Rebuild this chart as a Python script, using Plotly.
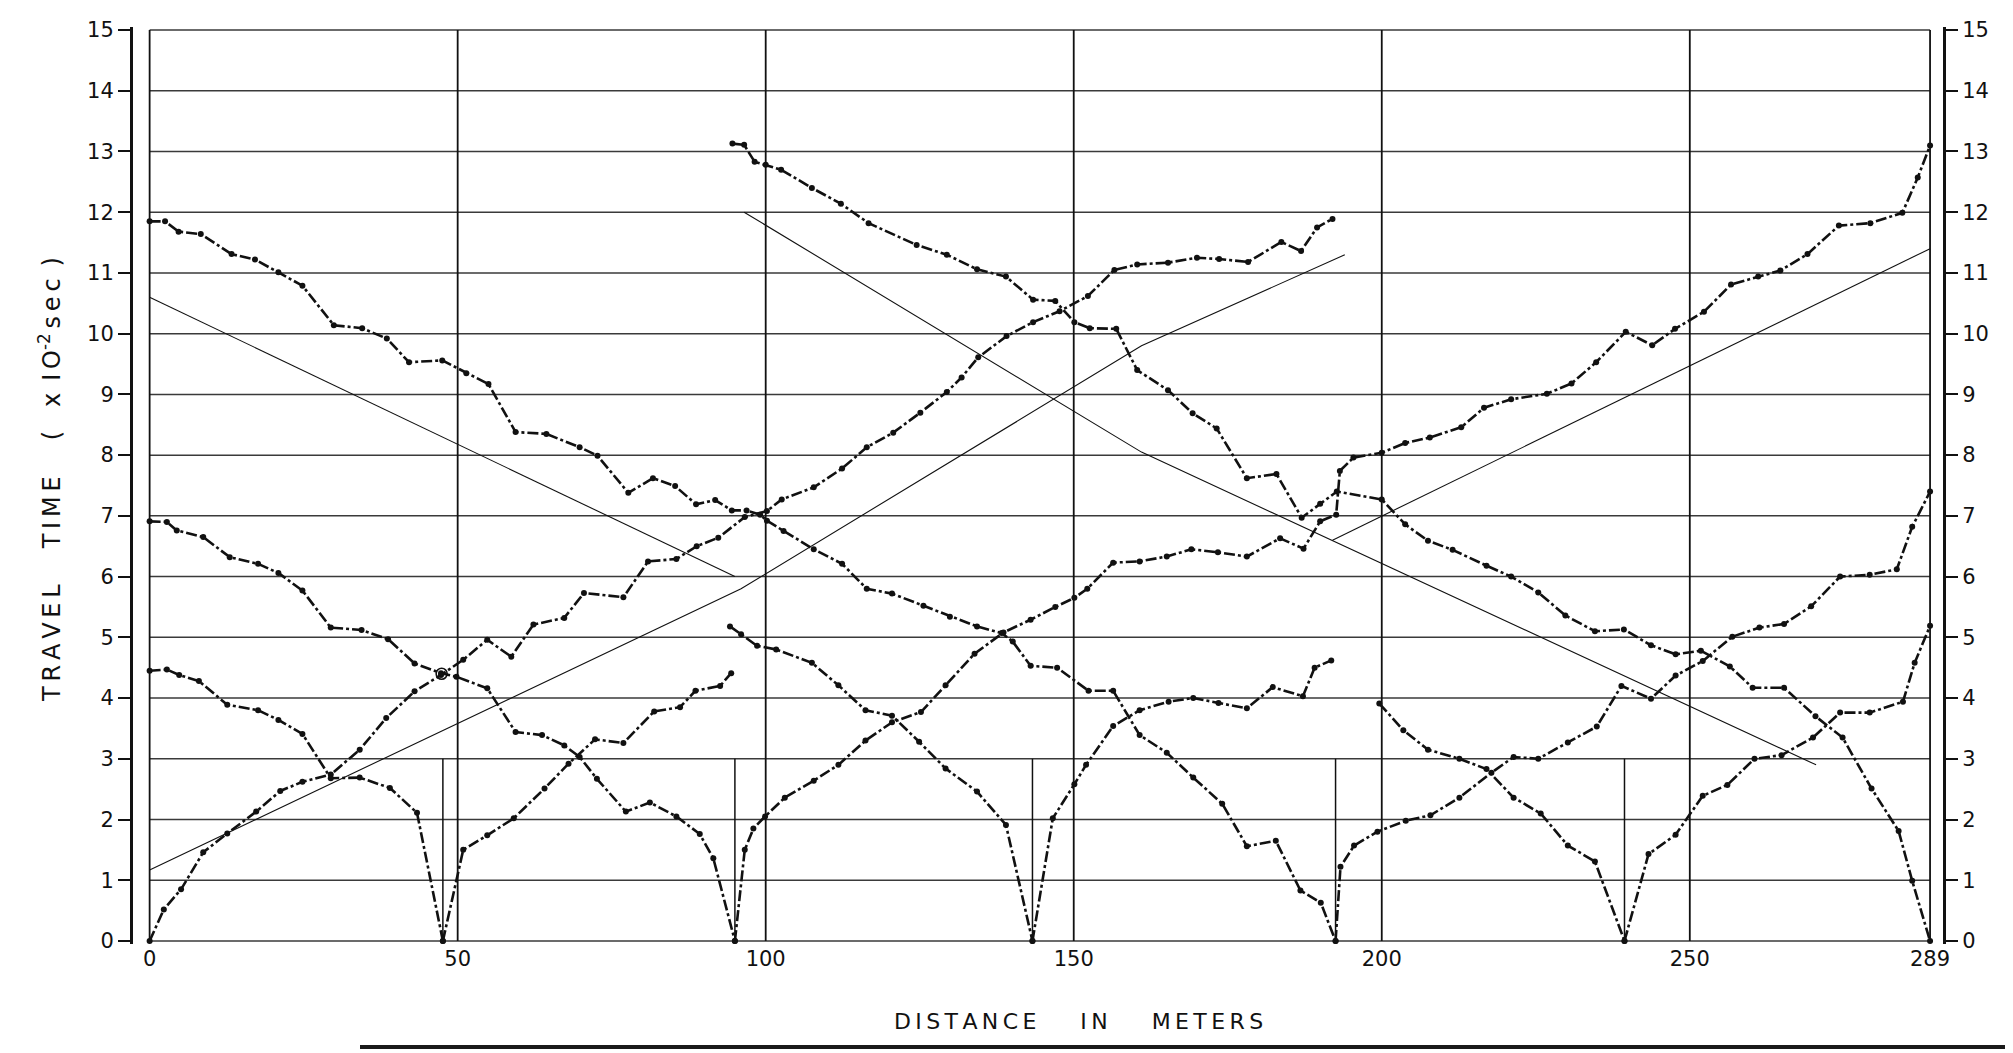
import plotly.graph_objects as go

# ---------------- data ----------------
DIST_TICKS = [0, 50, 100, 150, 200, 250, 289]
TIME_TICKS = list(range(0, 16))
SOURCE_X = [47.6, 95.0, 143.3, 192.5, 239.4]
SOURCE_MARK_TOP = 3

# shot at 0, forward (0 -> 192)
S0_FWD_X = [0, 2.3, 5.1, 8.7, 12.6, 17.3, 21.2, 24.8, 29.4, 34.1, 38.4, 43.0, 47.3, 50.9, 54.8, 58.7,
            62.3, 67.3, 70.5, 76.9, 80.9, 85.5, 88.8, 92.3, 96.6, 100.2, 102.6, 107.8, 112.4, 116.4,
            120.7, 125.1, 129.4, 131.8, 134.5, 139.1, 143.4, 147.7, 152.3, 156.6, 160.3, 165.3, 170.0,
            173.6, 178.3, 183.7, 186.9, 189.5, 192.0]
S0_FWD_T = [0, 0.52, 0.85, 1.46, 1.77, 2.13, 2.47, 2.62, 2.74, 3.15, 3.67, 4.11, 4.38, 4.63, 4.96, 4.68,
            5.21, 5.32, 5.73, 5.66, 6.25, 6.29, 6.50, 6.64, 6.98, 7.08, 7.27, 7.47, 7.78, 8.13,
            8.37, 8.70, 9.04, 9.28, 9.61, 9.96, 10.19, 10.37, 10.62, 11.05, 11.14, 11.17, 11.25,
            11.23, 11.18, 11.51, 11.36, 11.75, 11.89]

# shot at 192, reverse (0 -> 192)
S192_REV_X = [0, 2.5, 4.7, 8.3, 13.3, 17.1, 20.9, 24.8, 29.9, 34.5, 38.5, 42.1, 47.5, 51.4, 55.0, 59.4,
              64.4, 69.8, 72.7, 77.7, 81.7, 85.3, 88.7, 91.8, 94.5, 96.9, 99.1, 100.2, 102.9, 107.8,
              112.4, 116.4, 120.5, 125.6, 129.9, 134.3, 138.3, 140.1, 143.0, 147.3, 152.4, 156.4,
              160.7, 165.1, 169.4, 174.1, 178.1, 182.8, 186.8, 190.1, 192.5]
S192_REV_T = [11.85, 11.85, 11.68, 11.64, 11.31, 11.22, 11.01, 10.79, 10.14, 10.09, 9.92, 9.53, 9.56,
              9.35, 9.17, 8.38, 8.35, 8.13, 7.99, 7.38, 7.62, 7.49, 7.19, 7.26, 7.09, 7.09, 7.02, 6.92,
              6.75, 6.45, 6.21, 5.80, 5.72, 5.52, 5.34, 5.18, 5.07, 4.93, 4.53, 4.50, 4.12, 4.12,
              3.39, 3.10, 2.69, 2.26, 1.56, 1.65, 0.83, 0.63, 0]

# shot at 96, reverse (0 -> 95)
S96_REV_X = [0, 2.8, 4.4, 8.7, 13.0, 17.6, 20.9, 24.8, 29.4, 34.4, 38.7, 43.0, 47.3, 49.8, 54.8, 59.4,
             63.7, 67.3, 69.8, 72.6, 77.3, 81.2, 85.5, 89.3, 91.5, 95.0]
S96_REV_T = [6.91, 6.90, 6.76, 6.65, 6.32, 6.21, 6.06, 5.77, 5.16, 5.12, 4.97, 4.57, 4.41, 4.35, 4.16,
             3.44, 3.39, 3.22, 3.03, 2.67, 2.13, 2.28, 2.05, 1.76, 1.36, 0]

# shot at 48, reverse (0 -> 47.6)
S48_REV_X = [0, 2.8, 4.8, 8.0, 12.6, 17.6, 20.9, 24.8, 29.4, 34.1, 39.0, 43.4, 47.6]
S48_REV_T = [4.45, 4.47, 4.38, 4.28, 3.89, 3.80, 3.64, 3.41, 2.68, 2.69, 2.52, 2.11, 0]

# shot at 48, forward (47.6 -> 94.4)
S48_FWD_X = [47.6, 50.9, 54.8, 59.1, 64.1, 68.0, 72.3, 76.9, 81.9, 86.1, 88.6, 92.6, 94.4]
S48_FWD_T = [0, 1.50, 1.74, 2.02, 2.51, 2.92, 3.32, 3.26, 3.78, 3.85, 4.12, 4.20, 4.41]

# shot at 144, reverse (94.2 -> 143.3)
S144_REV_X = [94.2, 96.0, 98.6, 101.7, 107.5, 111.8, 116.2, 120.5, 124.9, 129.2, 134.3, 139.0, 143.3]
S144_REV_T = [5.18, 5.05, 4.86, 4.80, 4.58, 4.21, 3.80, 3.71, 3.28, 2.84, 2.46, 1.91, 0]

# shot at 144, forward (143.3 -> 191.8)
S144_FWD_X = [143.3, 146.6, 150.1, 152.0, 156.4, 160.7, 165.4, 169.4, 173.5, 178.1, 182.3, 187.2,
              189.1, 191.8]
S144_FWD_T = [0, 2.02, 2.58, 2.90, 3.54, 3.80, 3.94, 4.00, 3.92, 3.83, 4.18, 4.03, 4.50, 4.62]

# shot at 96, forward (95 -> 289)
S96_FWD_X = [95.0, 96.6, 98.0, 99.9, 103.1, 107.8, 111.8, 116.2, 120.5, 125.2, 129.2, 133.9, 138.6,
             143.0, 147.0, 150.1, 152.2, 156.4, 160.7, 165.1, 169.1, 173.4, 178.1, 183.5, 187.3,
             190.0, 192.6, 193.2, 195.4, 200.0, 203.8, 207.8, 212.9, 216.6, 221.0, 226.8, 230.8,
             234.8, 239.6, 243.9, 247.6, 252.3, 256.7, 261.1, 264.7, 269.1, 274.2, 279.3, 284.5,
             287.0, 289.0]
S96_FWD_T = [0, 1.50, 1.85, 2.05, 2.36, 2.64, 2.90, 3.30, 3.60, 3.77, 4.21, 4.73, 5.08,
             5.29, 5.50, 5.65, 5.80, 6.23, 6.25, 6.33, 6.45, 6.40, 6.33, 6.63, 6.46,
             6.91, 7.02, 7.74, 7.96, 8.04, 8.20, 8.29, 8.46, 8.78, 8.92, 9.01, 9.18,
             9.53, 10.03, 9.81, 10.08, 10.36, 10.81, 10.94, 11.04, 11.31, 11.78, 11.82, 11.99,
             12.57, 13.10]

# shot at 289, reverse (94.6 -> 289)
S289_REV_X = [94.6, 96.5, 98.2, 100.0, 102.5, 107.5, 112.2, 116.7, 124.5, 129.4, 134.3, 139.0, 143.4,
              147.0, 150.1, 152.6, 156.9, 160.3, 165.3, 169.3, 173.2, 178.1, 182.9, 187.0, 190.0,
              192.7, 200.0, 203.8, 207.5, 211.5, 217.0, 221.0, 225.4, 229.8, 234.6, 239.3, 243.7,
              247.7, 251.8, 256.5, 260.2, 265.3, 270.4, 274.8, 279.5, 283.9, 286.1, 289.0]
S289_REV_T = [13.13, 13.11, 12.83, 12.78, 12.70, 12.40, 12.14, 11.82, 11.46, 11.30, 11.06, 10.94, 10.56,
              10.54, 10.19, 10.09, 10.08, 9.40, 9.07, 8.69, 8.44, 7.62, 7.69, 6.97, 7.20,
              7.40, 7.27, 6.86, 6.59, 6.44, 6.18, 6.00, 5.74, 5.36, 5.10, 5.13, 4.87,
              4.72, 4.78, 4.52, 4.17, 4.17, 3.70, 3.35, 2.51, 1.81, 0.99, 0]

# shot at 192, forward (192.5 -> 289)
S192_FWD_X = [192.5, 193.3, 195.5, 199.3, 203.9, 207.9, 212.6, 217.8, 221.4, 225.4, 230.2, 234.9,
              238.9, 243.7, 247.7, 252.1, 256.9, 261.3, 265.3, 269.7, 274.4, 279.2, 283.6, 286.1, 289.0]
S192_FWD_T = [0, 1.22, 1.57, 1.80, 1.98, 2.07, 2.36, 2.77, 3.03, 3.00, 3.27, 3.53,
              4.20, 3.99, 4.37, 4.61, 5.01, 5.16, 5.22, 5.51, 6.00, 6.03, 6.12, 6.82, 7.40]

# shot at 240, reverse (199.6 -> 239.4)
S240_REV_X = [199.6, 203.5, 207.5, 212.6, 217.0, 221.4, 225.8, 230.2, 234.6, 239.4]
S240_REV_T = [3.91, 3.47, 3.15, 3.00, 2.83, 2.36, 2.10, 1.57, 1.31, 0]

# shot at 240, forward (239.4 -> 289)
S240_FWD_X = [239.4, 243.3, 247.7, 252.1, 256.1, 260.5, 264.9, 270.0, 274.4, 279.2, 284.6, 286.5, 289.0]
S240_FWD_T = [0, 1.43, 1.75, 2.39, 2.57, 3.00, 3.06, 3.35, 3.76, 3.76, 3.94, 4.58, 5.19]

# fitted straight lines (velocity lines)
FIT1_X = [0, 96, 161, 194]
FIT1_T = [1.17, 5.80, 9.80, 11.30]
FIT2_X = [0, 95]
FIT2_T = [10.60, 6.00]
FIT3_X = [96.5, 161, 270.5]
FIT3_T = [12.00, 8.05, 2.90]
FIT4_X = [192, 289]
FIT4_T = [6.60, 11.40]

CIRCLE_X = [47.4]
CIRCLE_T = [4.40]

BRANCHES = [
    (S0_FWD_X, S0_FWD_T), (S192_REV_X, S192_REV_T), (S96_REV_X, S96_REV_T),
    (S48_REV_X, S48_REV_T), (S48_FWD_X, S48_FWD_T), (S144_REV_X, S144_REV_T),
    (S144_FWD_X, S144_FWD_T), (S96_FWD_X, S96_FWD_T), (S289_REV_X, S289_REV_T),
    (S192_FWD_X, S192_FWD_T), (S240_REV_X, S240_REV_T), (S240_FWD_X, S240_FWD_T),
]
FITS = [(FIT1_X, FIT1_T), (FIT2_X, FIT2_T), (FIT3_X, FIT3_T), (FIT4_X, FIT4_T)]

# ---------------- figure ----------------
OFF = 8                      # page body margin
W, H = 2013 - OFF, 1053 - OFF
P_LEFT, P_TOP = 133, 27      # plot area in the reference picture
PW, PH = 1810, 917
P_BOTTOM = P_TOP + PH
ML, MT = P_LEFT - OFF, P_TOP - OFF
MR, MB = W - ML - PW, H - MT - PH
XR = [-2.7, 291.1]
YR = [-0.05, 15.05]
FONT = "DejaVu Sans"
INK = "#111111"

fig = go.Figure()

shapes = []
for v in TIME_TICKS:
    shapes.append(dict(type="line", xref="x", yref="y", x0=DIST_TICKS[0], x1=DIST_TICKS[-1],
                       y0=v, y1=v, line=dict(color="#3a3a3a", width=1.5), layer="below"))
for d in DIST_TICKS:
    shapes.append(dict(type="line", xref="x", yref="y", x0=d, x1=d, y0=TIME_TICKS[0],
                       y1=TIME_TICKS[-1], line=dict(color=INK, width=1.8), layer="below"))
for s in SOURCE_X:
    shapes.append(dict(type="line", xref="x", yref="y", x0=s, x1=s, y0=0, y1=SOURCE_MARK_TOP,
                       line=dict(color=INK, width=1.5), layer="below"))
# page edge at the bottom of the scan
edge_y = -(1047 - P_BOTTOM) / PH
shapes.append(dict(type="line", xref="paper", yref="paper",
                   x0=(360 - P_LEFT) / PW, x1=(2013 - P_LEFT) / PW,
                   y0=edge_y, y1=edge_y, line=dict(color="#1a1a1a", width=4)))

for fx, ft in FITS:
    fig.add_trace(go.Scatter(x=fx, y=ft, mode="lines", line=dict(color=INK, width=1.1),
                             hoverinfo="skip", showlegend=False))

for bx, bt in BRANCHES:
    fig.add_trace(go.Scatter(x=bx, y=bt, mode="lines+markers",
                             line=dict(color=INK, width=2.6, dash="11px,3px,3px,3px"),
                             marker=dict(color=INK, size=6),
                             hoverinfo="skip", showlegend=False, cliponaxis=False))

fig.add_trace(go.Scatter(x=CIRCLE_X, y=CIRCLE_T, mode="markers",
                         marker=dict(symbol="circle-open", size=11, color=INK, line=dict(width=1.6)),
                         hoverinfo="skip", showlegend=False))

# invisible trace to carry the right-hand axis
fig.add_trace(go.Scatter(x=[DIST_TICKS[-1]] * len(TIME_TICKS), y=TIME_TICKS, yaxis="y2",
                         mode="markers", marker=dict(opacity=0), hoverinfo="skip", showlegend=False))

yax = dict(range=YR, tickvals=TIME_TICKS, ticktext=[str(v) for v in TIME_TICKS],
           showgrid=False, zeroline=False, showline=True, linecolor=INK, linewidth=3,
           ticks="outside", ticklen=12, tickwidth=1.5, tickcolor=INK, automargin=False,
           tickfont=dict(family=FONT, size=21, color=INK))

TH = "\u2009"   # thin space
EM = "\u2003"
EN = "\u2002"
x_title = TH.join("DISTANCE") + EM + EM + TH.join("IN") + EM + EM + TH.join("METERS")
y_title = (TH.join("TRAVEL") + EM + EN + TH.join("TIME") + EM + EN + "(" + EM + "x" + EN +
           "I" + TH + "O<sup>-2</sup>" + TH + TH.join("sec") + EN + ")")

fig.update_layout(
    width=W, height=H,
    margin=dict(l=ML, r=MR, t=MT, b=MB, pad=0, autoexpand=False),
    paper_bgcolor="white", plot_bgcolor="white",
    xaxis=dict(range=XR, tickvals=DIST_TICKS, ticktext=[str(d) for d in DIST_TICKS],
               showgrid=False, zeroline=False, showline=False, ticks="", automargin=False,
               tickfont=dict(family=FONT, size=21, color=INK)),
    yaxis=yax,
    yaxis2=dict(yax, overlaying="y", side="right"),
    shapes=shapes,
    annotations=[
        dict(text=x_title, xref="paper", yref="paper",
             x=(1078 - P_LEFT) / PW, y=-(1021 - P_BOTTOM) / PH,
             showarrow=False, xanchor="center", yanchor="middle",
             font=dict(family=FONT, size=22, color=INK)),
        dict(text=y_title, xref="paper", yref="paper",
             x=(50 - P_LEFT) / PW, y=(P_BOTTOM - 480) / PH,
             showarrow=False, textangle=-90, xanchor="center", yanchor="middle",
             font=dict(family=FONT, size=24, color=INK)),
    ],
)

fig.write_html("out.html")
